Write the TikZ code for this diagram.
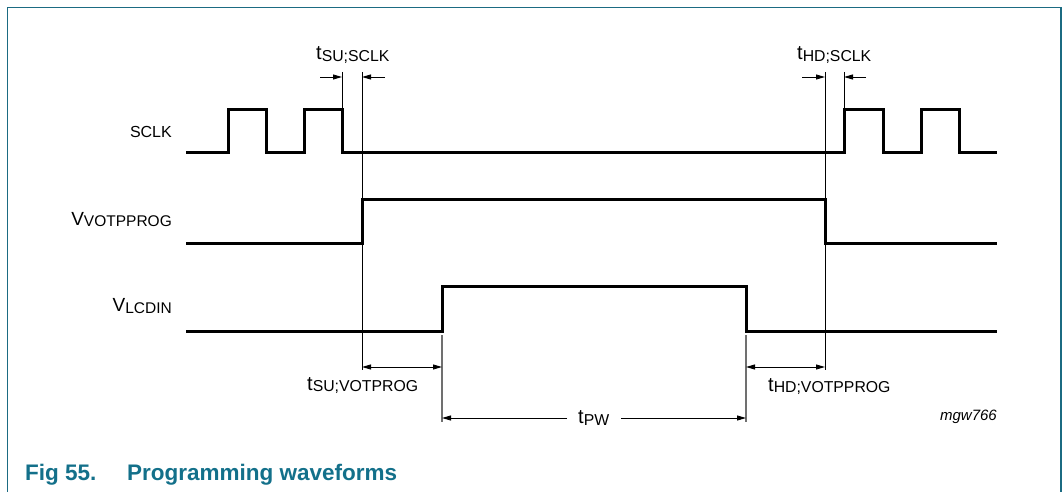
\documentclass[tikz,border=0pt]{standalone}
\usepackage{fontspec}
\setmainfont{Liberation Sans}
\usetikzlibrary{arrows.meta}
\definecolor{frameteal}{HTML}{1B6B82}
\definecolor{capteal}{HTML}{13708A}
\definecolor{guidegray}{HTML}{707070}
% main letter, subscript
\newcommand\sigsub[2]{{\fontsize{20}{20}\selectfont #1}\raisebox{-1.8pt}{\fontsize{15.8}{15.8}\selectfont #2}}
\newcommand\vsigsub[2]{{\fontsize{19}{19}\selectfont #1}\raisebox{-1.6pt}{\fontsize{15.5}{15.5}\selectfont #2}}
\begin{document}
\begin{tikzpicture}[x=1pt,y=-1pt,
  wave/.style={line width=3pt, line join=miter, line cap=butt},
  guide/.style={line width=0.9pt, black},
  gguide/.style={line width=1.2pt, guidegray},
  dimarrow/.style={line width=0.9pt, -{Triangle[length=9pt,width=5pt]}},
  dimboth/.style={line width=0.9pt, {Triangle[length=9pt,width=5pt]}-{Triangle[length=9pt,width=5pt]}},
  lbl/.style={inner sep=0pt, anchor=base west},
  sig/.style={inner sep=0pt, anchor=base east, font=\fontsize{16}{16}\selectfont},
  captxt/.style={inner sep=0pt, anchor=base west, text=capteal, font=\fontsize{22.5}{22.5}\selectfont\bfseries},
  frame/.style={line width=1.3pt, frameteal}]
\useasboundingbox (0,0) rectangle (1063,492);
% frame
\draw[frame] (7.5,492) -- (7.5,7.5) -- (1061,7.5) -- (1061,492);

% key coordinates
\coordinate (scF) at (342,72);
\coordinate (suL) at (362,72);
\coordinate (hdL) at (825,72);
\coordinate (scR) at (844,72);
\coordinate (suB) at (362,370);
\coordinate (hdB) at (825,370);
\coordinate (lcR) at (442,335);
\coordinate (lcF) at (746,335);
\coordinate (lcRb) at (442,422);
\coordinate (lcFb) at (746,422);

% signal names
\node[sig] (nsclk) at (172,138) {SCLK};
\node[sig] (nvot) at (172,225) {\vsigsub{V}{VOTPPROG}};
\node[sig] (nlcd) at (172,311.5) {\vsigsub{V}{LCDIN}};

% guide lines
\draw[guide] (scF) -- (342,110);
\draw[guide] (suL) -- (suB);
\draw[guide] (hdL) -- (hdB);
\draw[guide] (scR) -- (844,110);
\draw[gguide] (lcR) -- (lcRb);
\draw[gguide] (lcF) -- (lcFb);

% waveforms
\draw[wave] (186,153) -| (228,110) -| (266,153) -| (304,110) -| (342,153)
  -| (844,110) -| (883,153) -| (921,110) -| (959,153) -- (997,153);
\draw[wave] (186,243) -| (362,199) -| (825,243) -- (997,243);
\draw[wave] (186,331) -| (442,286) -| (746,331) -- (997,331);

% timing labels
\node[lbl] (tsusclk) at (316,59.5) {\sigsub{t}{SU;SCLK}};
\node[lbl] (thdsclk) at (797,59.5) {\sigsub{t}{HD;SCLK}};
\node[lbl] (tsuvot) at (307,390) {\sigsub{t}{SU;VOTPROG}};
\node[lbl] (thdvot) at (768,391) {\sigsub{t}{HD;VOTPPROG}};
\node[lbl] (tpw) at (578,423.5) {\sigsub{t}{PW}};
\node[inner sep=0pt, anchor=base east, font=\fontsize{15}{15}\selectfont\itshape] (code) at (997,420) {mgw766};

% dimension arrows
\coordinate (a1) at (320,77);
\coordinate (a1e) at (342,77);
\coordinate (a2) at (385,77);
\coordinate (a2e) at (362,77);
\coordinate (a3) at (802,77);
\coordinate (a3e) at (825,77);
\coordinate (a4) at (866,77);
\coordinate (a4e) at (844,77);
\draw[dimarrow] (a1) -- (a1e);
\draw[dimarrow] (a2) -- (a2e);
\draw[dimarrow] (a3) -- (a3e);
\draw[dimarrow] (a4) -- (a4e);
\draw[dimboth] (362,367) -- (442,367);
\draw[dimboth] (746,367) -- (825,367);
\coordinate (pwl) at (567,418);
\coordinate (pwr) at (621,418);
\draw[dimarrow] (pwl) -- (442,418);
\draw[dimarrow] (pwr) -- (746,418);

% caption
\node[captxt] (figno) at (25,480) {Fig 55.};
\node[captxt] (figtitle) at (127,480) {Programming waveforms};
\end{tikzpicture}
\end{document}
